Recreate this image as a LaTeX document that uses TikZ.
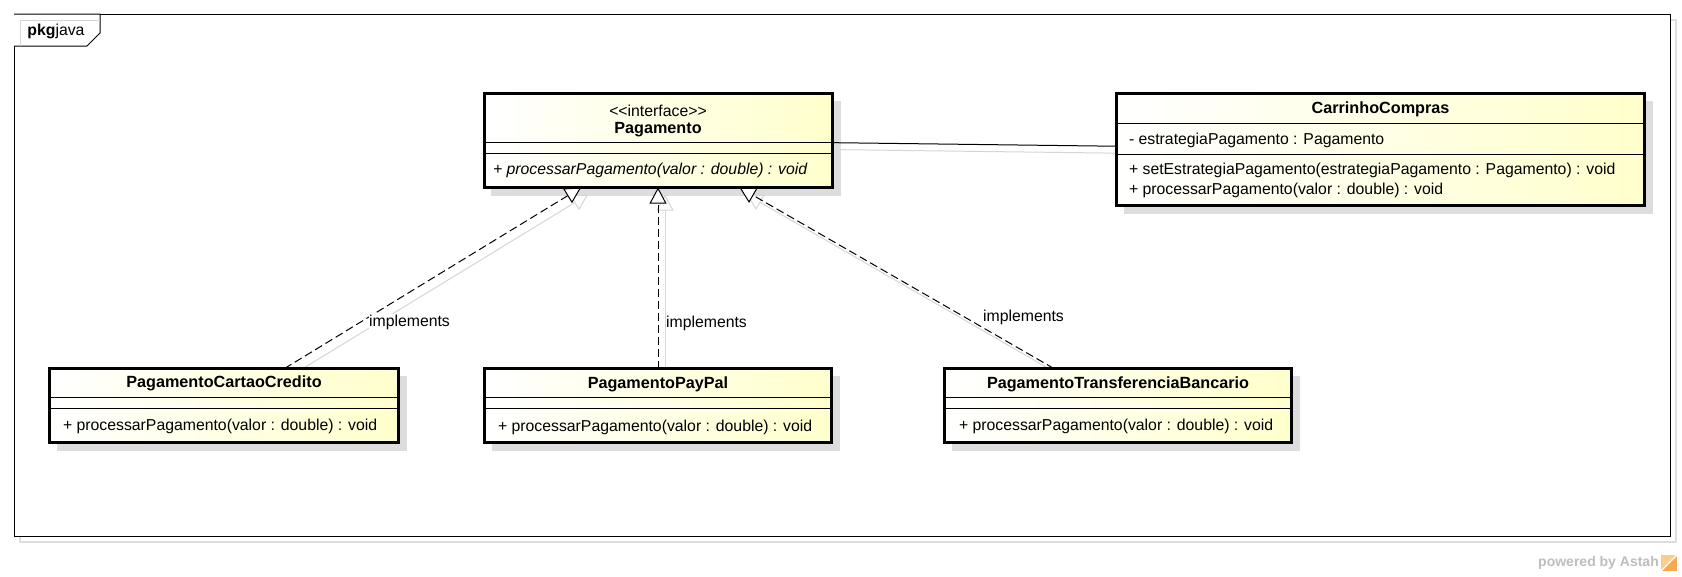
\documentclass[tikz,border=0pt]{standalone}
\usepackage{fontspec}
\setmainfont{Liberation Sans}
\usetikzlibrary{arrows.meta}
\pgfdeclarelayer{framelayer}
\pgfdeclarelayer{shadowlayer}
\pgfdeclarelayer{linelayer}
\pgfsetlayers{framelayer,shadowlayer,linelayer,main}
\definecolor{boxyellow}{RGB}{255,255,204}
\definecolor{boxshadow}{RGB}{221,221,221}
\definecolor{lineshadow}{RGB}{214,214,214}
\definecolor{poweredgray}{RGB}{190,190,190}
\definecolor{logoorange}{RGB}{245,170,80}
\definecolor{logolight}{RGB}{250,205,140}
\tikzset{
  umlbox/.style={draw=black, line width=3pt, left color=white, right color=boxyellow,
    outer sep=0pt, inner sep=0pt},
  sepline/.style={draw=black, line width=1pt},
  umltxt/.style={inner sep=0pt, outer sep=0pt, font=\fontsize{15.8}{18}\selectfont},
  umlname/.style={inner sep=0pt, outer sep=0pt, font=\bfseries\fontsize{16.2}{18}\selectfont},
  umlital/.style={inner sep=0pt, outer sep=0pt, font=\itshape\fontsize{15.8}{18}\selectfont},
  realize/.style={line width=1pt, dash pattern=on 8pt off 4pt,
    -{Triangle[open, length=16pt, width=17pt, fill=white]}},
  realizeshadow/.style={line width=1pt, draw=lineshadow,
    -{Triangle[open, length=16pt, width=17pt]}, transform canvas={xshift=7pt, yshift=-7pt}},
  assoc/.style={line width=1pt},
  assocshadow/.style={line width=1pt, draw=lineshadow, transform canvas={xshift=7pt, yshift=-7pt}},
  boxshade/.style={fill=boxshadow}
}
\begin{document}
\begin{tikzpicture}[x=1pt, y=-1pt]
\useasboundingbox (0,0) rectangle (1682,576);

% frame
\begin{pgfonlayer}{framelayer}
  \fill[white] (0,0) rectangle (1682,576);
  \draw[draw=boxshadow, line width=1.5pt] (20,20) rectangle (1676,542);
  \node[draw=black, line width=1pt, fill=white, minimum width=1656, minimum height=522,
        inner sep=0pt, outer sep=0pt] (frame) at (842,275) {};
  \draw[line width=1pt, fill=white] (frame.north west) -- ++(86,0) -- ++(0,19) -- ++(-13,13) -- ++(-73,0);
  \draw[draw=lineshadow, line width=1pt] ([xshift=6pt,yshift=-6pt]frame.north west) -- ++(80,0);
  \draw[draw=lineshadow, line width=1pt] ([xshift=6pt,yshift=-6pt]frame.north west) -- ++(0,26);
  \node[umltxt] (tabtxt) at (56,31) {\textbf{pkg}java};
\end{pgfonlayer}

% boxes
\node[umlbox, minimum width=348, minimum height=94] (pag) at (658,140.5) {};
\node[umlbox, minimum width=528, minimum height=112] (carr) at (1380.5,149.5) {};
\node[umlbox, minimum width=349, minimum height=74] (cartao) at (224,405.5) {};
\node[umlbox, minimum width=347, minimum height=74] (paypal) at (658,405.5) {};
\node[umlbox, minimum width=347, minimum height=74] (transf) at (1118,405.5) {};

% separators
\draw[sepline] ([yshift=-48.5pt]pag.north west) -- ([yshift=-48.5pt]pag.north east);
\draw[sepline] ([yshift=-59.5pt]pag.north west) -- ([yshift=-59.5pt]pag.north east);
\draw[sepline] ([yshift=-29.5pt]carr.north west) -- ([yshift=-29.5pt]carr.north east);
\draw[sepline] ([yshift=-60.5pt]carr.north west) -- ([yshift=-60.5pt]carr.north east);
\foreach \b in {cartao,paypal,transf}{
  \draw[sepline] ([yshift=-29pt]\b.north west) -- ([yshift=-29pt]\b.north east);
  \draw[sepline] ([yshift=-39.5pt]\b.north west) -- ([yshift=-39.5pt]\b.north east);
}

% texts
\node[umltxt] (pagst) at (658,111) {<\kern0pt<interface>\kern0pt>};
\node[umlname] (pagnm) at (658,130) {Pagamento};
\node[umlital, anchor=west] (pagm) at (493,170) {+ processarPagamento(valor : double) : void};

\node[umlname] (carrnm) at (1380.5,109) {CarrinhoCompras};
\node[umltxt, anchor=west] (carra) at (1129,140) {- estrategiaPagamento : Pagamento};
\node[umltxt, anchor=west] (carrm1) at (1129,170) {+ setEstrategiaPagamento(estrategiaPagamento : Pagamento) : void};
\node[umltxt, anchor=west] (carrm2) at (1129,190) {+ processarPagamento(valor : double) : void};

\node[umlname] (cartaonm) at (224,383) {PagamentoCartaoCredito};
\node[umltxt, anchor=west] (cartaom) at (63,426) {+ processarPagamento(valor : double) : void};
\node[umlname] (paypalnm) at (658,384) {PagamentoPayPal};
\node[umltxt, anchor=west] (paypalm) at (498,427) {+ processarPagamento(valor : double) : void};
\node[umlname] (transfnm) at (1118,384) {PagamentoTransferenciaBancario};
\node[umltxt, anchor=west] (transfm) at (959,426) {+ processarPagamento(valor : double) : void};

% shadows
\begin{pgfonlayer}{shadowlayer}
  \foreach \b in {pag,carr,cartao,paypal,transf}{
    \fill[boxshade] ([xshift=7pt,yshift=-7pt]\b.north west) rectangle ([xshift=8.5pt,yshift=-8.5pt]\b.south east);
  }
  \draw[realizeshadow] (cartao) -- (pag);
  \draw[realizeshadow] (paypal) -- (pag);
  \draw[realizeshadow] (transf) -- (pag);
  \draw[assocshadow] (pag) -- (carr);
\end{pgfonlayer}

% connectors
\begin{pgfonlayer}{linelayer}
  \draw[realize] (cartao) -- (pag);
  \draw[realize] (paypal) -- (pag);
  \draw[realize] (transf) -- (pag);
  \draw[assoc] (pag) -- (carr);
\end{pgfonlayer}

% connector labels
\node[umltxt, fill=white, inner sep=0.5pt] (lbl1) at (409.5,322) {implements};
\node[umltxt, fill=white, inner sep=0.5pt] (lbl2) at (706.5,323) {implements};
\node[umltxt, fill=white, inner sep=0.5pt] (lbl3) at (1023.5,317) {implements};

% powered by
\node[inner sep=0pt, anchor=east, text=poweredgray, font=\bfseries\fontsize{14}{16}\selectfont] (powered) at (1659,563) {powered by Astah};
\node[fill=logoorange, minimum size=16pt, inner sep=0pt, outer sep=0pt] (logo) at (1669,563) {};
\fill[logolight] (logo.north west) -- (logo.north east) -- (logo.south west) -- cycle;
\draw[white, line width=1.2pt] (logo.north east) -- (logo.south west);
\end{tikzpicture}
\end{document}
